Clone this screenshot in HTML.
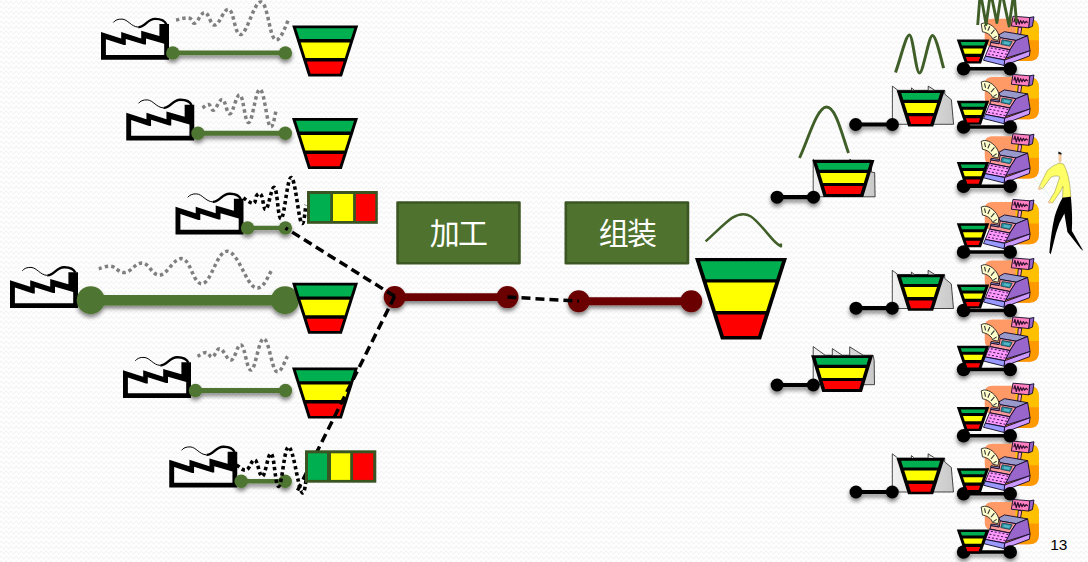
<!DOCTYPE html><html><head><meta charset="utf-8"><title>slide</title><style>html,body{margin:0;padding:0;background:#fff}svg{display:block}</style></head><body><svg width="1088" height="562" viewBox="0 0 1088 562"><defs><pattern id="zz" width="5" height="5" patternUnits="userSpaceOnUse"><path d="M-1.25 4.1L1.25 0.9L3.75 4.1L6.25 0.9" fill="none" stroke="#f4f4f4" stroke-width="1.1"/></pattern><filter id="sh" x="-20%" y="-50%" width="140%" height="250%"><feGaussianBlur in="SourceAlpha" stdDeviation="2"/><feOffset dx="0" dy="3.2"/><feComponentTransfer><feFuncA type="linear" slope="0.5"/></feComponentTransfer><feMerge><feMergeNode/><feMergeNode in="SourceGraphic"/></feMerge></filter><linearGradient id="gg" x1="0" y1="0" x2="1" y2="0"><stop offset="0" stop-color="#f2f2f2"/><stop offset="1" stop-color="#c9c9c9"/></linearGradient><g id="fac"><path fill-rule="evenodd" fill="#000" d="M0 0L0 -27.8L20.2 -21.3L20.2 -27.8L40.2 -21.3L40.2 -29L58.4 -23.7L58.4 -35.7L68 -35.7L68 0ZM4.9 -4.8L4.9 -20.4L22.9 -14.6L24.8 -14.6L24.8 -20.8L43 -15.1L45 -15.1L45 -21.3L63.2 -16L63.2 -4.8Z"/><path d="M12.3 -37.2C14 -39.5 17 -40.8 21 -40.6C27 -40.3 30 -33 37.3 -32.6" fill="none" stroke="#000" stroke-width="1"/><path d="M37.3 -32.6C44 -32.2 46 -40.6 54 -40.8C59.5 -40.9 63.5 -39.5 65.3 -35.5" fill="none" stroke="#000" stroke-width="2.4"/></g><g id="reg"><path d="M34.74 14.24 Q34.74 7.06 42.14 7.06 L79.73 7.06 Q88.84 7.06 88.84 17.08 L88.84 39.86 Q88.84 49.2 79.73 49.2 L54.67 49.2 L54.67 34.17 L39.29 34.17 Q34.74 34.17 34.74 27.33Z" fill="#FF9966"/><path d="M65.49 13.67 Q66.06 9.11 70.62 8.43 L79.73 7.97 Q88.84 7.52 88.84 17.08 L88.84 29.04 L65.49 29.04Z" fill="#FFC000"/><path d="M78.59 28.47 L88.84 28.47 L88.84 39.86 Q88.84 49.2 79.73 49.2 L54.67 49.2 L54.67 45.56Z" fill="#FF9900"/><path d="M31.21 12.07 L34.17 11.16 C39.64 11.16 46.47 15.95 48.86 23.69 L48.06 28.7 L42.6 27.45 C41.23 23.23 36.9 20.73 32.46 20.05Z" fill="#FFFFCC" stroke="#222" stroke-width="0.9" stroke-linejoin="round"/><path d="M34.51 13.44L35.54 17.77" stroke="#333" stroke-width="1.1"/><path d="M39.86 14.58L37.81 18.91" stroke="#333" stroke-width="1.1"/><path d="M44.42 18.22L41 22.1" stroke="#333" stroke-width="1.1"/><path d="M46.7 24.37L43.28 26.65" stroke="#333" stroke-width="1.1"/><path d="M68.34 15.26 L71.75 15.83 L70.62 22.78 L67.65 22.55Z" fill="#FF99CC" stroke="#100828" stroke-width="0.9" stroke-linejoin="round"/><path d="M79.73 5.81 L83.94 5.01 L82.46 14.58 L78.59 16.06Z" fill="#9966CC" stroke="#100828" stroke-width="0.9" stroke-linejoin="round"/><path d="M62.98 4.44 L79.73 5.81 L78.59 16.06 L61.39 14.24Z" fill="#FF80C0" stroke="#100828" stroke-width="0.9" stroke-linejoin="round"/><path d="M63.78 10.48 L64.92 6.83 L66.29 12.76 L67.88 7.52 L69.25 12.3 L70.62 8.66 L71.98 11.85 L73.35 9.11 L74.72 11.39 L76.08 9.57 L77.68 10.93" fill="none" stroke="#301030" stroke-width="1.2" stroke-linejoin="round"/><path d="M48.97 23.01 L54.44 19.93 L77.68 23.92 L66.29 28.7 L50.11 25.97Z" fill="#9999CC" stroke="#100828" stroke-width="0.9" stroke-linejoin="round"/><path d="M41 29.04 L49.77 30.3 L49.2 32.12 L40.55 30.75Z" fill="#9999CC" stroke="#100828" stroke-width="0.9" stroke-linejoin="round"/><path d="M50.11 25.97 L65.83 28.7 L60.02 37.93 L39.86 33.94 L41 30.75 L49.2 32.12Z" fill="#FF9999" stroke="#100828" stroke-width="0.9" stroke-linejoin="round"/><path d="M52.16 28.02 L62.19 29.84 L59.91 34.4 L50.8 32.57Z" fill="#2F8FA0" stroke="#104050" stroke-width="0.8" stroke-linejoin="round"/><path d="M54.21 29.84 L60.14 30.75 L59 33.03 L53.53 32.12Z" fill="#55B8C8"/><path d="M66.06 28.7 L77.68 23.92 L80.07 38.95 L55.58 46.47 L60.02 37.93Z" fill="#9966CC" stroke="#100828" stroke-width="0.9" stroke-linejoin="round"/><path d="M39.52 34.17 L60.02 38.15 L54.9 48.06 L35.31 44.42Z" fill="#FF99FF" stroke="#100828" stroke-width="0.9" stroke-linejoin="round"/><path d="M40.77 36.33L42.82 36.56" stroke="#401850" stroke-width="1.1"/><path d="M44.65 37.07L46.7 37.3" stroke="#401850" stroke-width="1.1"/><path d="M48.52 37.81L50.57 38.04" stroke="#401850" stroke-width="1.1"/><path d="M52.39 38.55L54.44 38.78" stroke="#401850" stroke-width="1.1"/><path d="M56.26 39.29L58.31 39.52" stroke="#401850" stroke-width="1.1"/><path d="M39.41 39.29L41.46 39.52" stroke="#401850" stroke-width="1.1"/><path d="M43.28 40.03L45.33 40.26" stroke="#401850" stroke-width="1.1"/><path d="M47.15 40.77L49.2 41" stroke="#401850" stroke-width="1.1"/><path d="M51.03 41.51L53.08 41.74" stroke="#401850" stroke-width="1.1"/><path d="M54.9 42.26L56.95 42.48" stroke="#401850" stroke-width="1.1"/><path d="M38.04 42.26L40.09 42.48" stroke="#401850" stroke-width="1.1"/><path d="M41.91 43L43.96 43.22" stroke="#401850" stroke-width="1.1"/><path d="M45.79 43.74L47.84 43.96" stroke="#401850" stroke-width="1.1"/><path d="M49.66 44.48L51.71 44.7" stroke="#401850" stroke-width="1.1"/><path d="M53.53 45.22L55.58 45.44" stroke="#401850" stroke-width="1.1"/><path d="M35.31 44.42 L54.67 48.29 L54.21 53.76 L33.49 48.52Z" fill="#9999FF" stroke="#100828" stroke-width="0.9" stroke-linejoin="round"/><path d="M54.67 48.29 L80.07 38.95 L79.38 44.19 L54.21 53.76Z" fill="#CC99FF" stroke="#100828" stroke-width="0.9" stroke-linejoin="round"/></g><g id="fun"><path d="M0 0 L66 0 L49.8 51 L16.2 51Z" fill="#000"/><path d="M3.96 2.7 L62.04 2.7 L58.58 13.6 L7.42 13.6Z" fill="#00B050"/><path d="M8.5 17 L57.5 17 L52.61 32.4 L13.39 32.4Z" fill="#FFFF00"/><path d="M14.54 36 L51.46 36 L47.56 48.3 L18.44 48.3Z" fill="#FF0000"/></g><g id="sfun"><path d="M0 0 L32.4 0 L24.2 24 L8.2 24Z" fill="#000"/><path d="M3.92 2.4 L28.48 2.4 L27.22 6.1 L5.18 6.1Z" fill="#00B050"/><path d="M6.17 9 L26.22 9 L24.45 14.2 L7.95 14.2Z" fill="#FFFF00"/><path d="M9.04 17.4 L23.35 17.4 L21.85 21.8 L10.55 21.8Z" fill="#FF0000"/></g><g id="per"><path d="M38.4 11.57L41.64 12.95L41.18 15.27L38.4 14.34Z" fill="#111"/><path d="M38.63 13.88L41.41 14.8L41.64 20.36L39.79 24.06L38.4 19.89Z" fill="#F2C9A0"/><path d="M38.86 23.13 L43.49 24.06 Q49.73 34.7 50.89 56.9 L42.56 58.06 L43.03 46.26 Q40.48 52.05 32.38 62.92 L28.68 61.99 L34.7 52.05 L39.79 37.01 Q37.01 34.7 31.23 37.01 L22.21 49.04 L18.97 47.19 L27.3 30.53 Q32.38 25.45 38.86 23.13Z" fill="#FFFF66" stroke="#8a8a30" stroke-width="0.5"/><circle cx="19.43" cy="48.58" r="1.6" fill="#F2C9A0"/><circle cx="29.61" cy="61.99" r="1.6" fill="#F2C9A0"/><path d="M42.56 57.83 L50.89 56.67 Q52.74 76.34 51.82 90.68 L63.38 111.03 L60.61 108.72 L47.42 92.07 Q45.34 79.81 44.41 73.56 Q38.4 83.28 36.09 92.99 L30.77 114.27 L29.38 112.42 Q31 92.53 34.7 76.34 Q38.17 65.23 42.56 57.83Z" fill="#000"/><path d="M13.88 38.17L30.07 56.67" stroke="#d8f0e0" stroke-width="0.8"/></g><g id="wfun"><path d="M0 0 L62 0 L50.85 36.8 L11.15 36.8Z" fill="#000"/><path d="M4.58 2.9 L57.42 2.9 L55.39 9.6 L6.61 9.6Z" fill="#00B050"/><path d="M7.58 12.8 L54.42 12.8 L51.39 22.8 L10.61 22.8Z" fill="#FFFF00"/><path d="M11.52 25.8 L50.48 25.8 L48.03 33.9 L13.97 33.9Z" fill="#FF0000"/></g><g id="nfun"><path d="M0 0 L48.2 0 L36.65 36.2 L11.55 36.2Z" fill="#000"/><path d="M4.59 2.8 L43.61 2.8 L41.5 9.4 L6.7 9.4Z" fill="#00B050"/><path d="M7.72 12.6 L40.48 12.6 L37.29 22.6 L10.91 22.6Z" fill="#FFFF00"/><path d="M11.96 25.9 L36.24 25.9 L33.75 33.7 L14.45 33.7Z" fill="#FF0000"/></g><g id="bfun"><path d="M0 0 L92 0 L66 81.5 L26 81.5Z" fill="#000"/><path d="M5.02 3.2 L86.98 3.2 L81.2 21.3 L10.8 21.3Z" fill="#00B050"/><path d="M11.85 24.6 L80.15 24.6 L71.09 53 L20.91 53Z" fill="#FFFF00"/><path d="M22.06 56.6 L69.94 56.6 L63.12 78 L28.88 78Z" fill="#FF0000"/></g><g id="wbld"><path d="M2.1 29.5L2.1 -8.6L14 0L21.2 0L21.2 -6.6L31.1 0L38.6 0L38.6 -8.4L52 0L62 0L63.1 5.2L63.4 29.5Z" fill="url(#gg)" stroke="#000" stroke-width="0.7" stroke-linejoin="miter"/></g><g id="nbld"><path d="M-4.2 34L-4.2 -4.2L1.3 0L14.9 0L14.9 -2.4L17.9 0L31.6 0L31.6 -4.2L38.3 0L48.2 0L48.2 3.9L54.8 9.4L57 34Z" fill="url(#gg)" stroke="#000" stroke-width="0.7"/></g><g id="abld"><path d="M0.8 36.7L0.8 -1L2 0L37.5 0L37.5 -1L39 0L59 0L59 12L62.3 12.5L62.7 36.7Z" fill="url(#gg)" stroke="#000" stroke-width="0.7"/></g></defs><rect width="1088" height="562" fill="#fff"/><rect width="1088" height="562" fill="url(#zz)"/>
<path d="M176 20C178.6 19.6 185.2 17.4 189 18C192.8 18.6 191.8 24.1 195 23C198.2 21.9 201 12.1 205 12.5C209 12.9 210.2 25.6 215 25C219.8 24.4 223.8 7.6 229 9.5C234.2 11.4 234.6 36 241 34.5C247.4 33 254.2 1 261 2C267.8 3 269.4 36.1 275 39.5C280.6 42.9 286.2 23.1 289 19" fill="none" stroke="#7f7f7f" stroke-width="3.5" stroke-dasharray="3.4 3"/>
<path d="M202.5 108C203.75 107.3 206.5 104.1 208.75 104.5C211 104.9 211 111 213.75 110C216.5 109 219.25 98.75 222.5 99.5C225.75 100.25 226.5 114.65 230 113.75C233.5 112.85 236.25 93.25 240 95C243.75 96.75 244.75 123.6 248.75 122.5C252.75 121.4 255.75 88.75 260 89.5C264.25 90.25 266.75 122.15 270 126.25C273.25 130.35 275 113.25 276.25 110" fill="none" stroke="#7f7f7f" stroke-width="3.5" stroke-dasharray="3.4 3"/>
<path d="M98.75 268.75C101.25 268.25 106 265.5 111.25 266.25C116.5 267 118.75 273.15 125 272.5C131.25 271.85 135.5 262.5 142.5 263C149.5 263.5 152 275.85 160 275C168 274.15 174 257 182.5 258.75C191 260.5 193.5 285.25 202.5 283.75C211.5 282.25 217 250.5 227.5 251.25C238 252 246.1 283.75 255 287.5C263.9 291.25 268.6 273.5 272 270" fill="none" stroke="#7f7f7f" stroke-width="3.5" stroke-dasharray="3.4 3"/>
<path d="M197.5 356.25C199.25 355.5 203.25 352.35 206.25 352.5C209.25 352.65 209.75 357.75 212.5 357C215.25 356.25 216.25 348.15 220 348.75C223.75 349.35 227 360.75 231.25 360C235.5 359.25 237.25 343 241.25 345C245.25 347 246.75 371.25 251.25 370C255.75 368.75 258.75 338.5 263.75 338.75C268.75 339 271.5 367.75 276.25 371.25C281 374.75 285.25 359.25 287.5 356.25" fill="none" stroke="#7f7f7f" stroke-width="3.5" stroke-dasharray="3.4 3"/>
<use href="#fac" x="101" y="59.7"/>
<use href="#fac" x="126.25" y="140.5"/>
<use href="#fac" x="175.5" y="234.5"/>
<use href="#fac" x="10" y="308"/>
<use href="#fac" x="123" y="398"/>
<use href="#fac" x="169.25" y="487.5"/>
<g filter="url(#sh)"><path d="M172.8 52.9L285.4 52.9" stroke="#507530" stroke-width="4.9"/><circle cx="172.8" cy="52.9" r="6.7" fill="#507530"/><circle cx="285.4" cy="52.9" r="6.7" fill="#507530"/></g>
<g filter="url(#sh)"><path d="M198 133.2L285.3 133.2" stroke="#507530" stroke-width="4.9"/><circle cx="198" cy="133.2" r="6.7" fill="#507530"/><circle cx="285.3" cy="133.2" r="6.7" fill="#507530"/></g>
<g filter="url(#sh)"><path d="M247.6 227.9L285.4 227.9" stroke="#507530" stroke-width="4.3"/><circle cx="247.6" cy="227.9" r="6.7" fill="#507530"/><circle cx="285.4" cy="227.9" r="6.7" fill="#507530"/></g>
<g filter="url(#sh)"><path d="M90.75 300.2L285 300.2" stroke="#507530" stroke-width="10.6"/><circle cx="90.75" cy="300.2" r="14" fill="#507530"/><circle cx="285" cy="300.2" r="14" fill="#507530"/></g>
<g filter="url(#sh)"><path d="M195.5 390.5L285.5 390.5" stroke="#507530" stroke-width="4.9"/><circle cx="195.5" cy="390.5" r="6.7" fill="#507530"/><circle cx="285.5" cy="390.5" r="6.7" fill="#507530"/></g>
<g filter="url(#sh)"><path d="M241.25 481.25L285.2 481.25" stroke="#507530" stroke-width="4.3"/><circle cx="241.25" cy="481.25" r="6.7" fill="#507530"/><circle cx="285.2" cy="481.25" r="6.7" fill="#507530"/></g>
<path d="M243.4 198C245.42 199.08 250.84 203.92 253.5 203.4C256.16 202.88 255.12 197 256.7 195.4C258.28 193.8 259.54 192.6 261.4 195.4C263.26 198.2 263.38 210.98 266 209.4C268.62 207.82 271.45 185.63 274.5 187.5C277.55 189.37 277.9 220.75 281.25 218.75C284.6 216.75 287.25 176.75 291.25 177.5C295.25 178.25 298.3 217 301.25 222.5C304.2 228 305.05 208.5 306 205" fill="none" stroke="#000" stroke-width="3.6" stroke-dasharray="3.4 2.9"/>
<path d="M236.75 465C238.65 466 242.6 471 246.25 470C249.9 469 251.75 458.75 255 460C258.25 461.25 259.25 477.5 262.5 476.25C265.75 475 268 451.75 271.25 453.75C274.5 455.75 275.25 487.6 278.75 486.25C282.25 484.9 284.25 446 288.75 447C293.25 448 297.75 484.65 301.25 491.25C304.75 497.85 305.25 482.25 306.25 480" fill="none" stroke="#000" stroke-width="3.6" stroke-dasharray="3.4 2.9"/>
<use href="#fun" x="292.2" y="25.5"/>
<use href="#fun" x="292" y="118"/>
<use href="#fun" x="292.05" y="282.8"/>
<use href="#fun" x="292" y="367.6"/>
<g filter="url(#sh)"><path d="M394.7 297.1L507.5 297.1" stroke="#6B0000" stroke-width="7.8"/><circle cx="394.7" cy="297.1" r="11" fill="#6B0000"/><circle cx="507.5" cy="297.1" r="11" fill="#6B0000"/></g>
<g filter="url(#sh)"><path d="M578.75 301.25L691.25 301.25" stroke="#6B0000" stroke-width="7.8"/><circle cx="578.75" cy="301.25" r="11" fill="#6B0000"/><circle cx="691.25" cy="301.25" r="11" fill="#6B0000"/></g>
<path d="M394.7 296.3L285.4 227.9" stroke="#000" stroke-width="3.5" stroke-dasharray="9 5" fill="none"/>
<path d="M394.7 296.3L297.6 490.5" stroke="#000" stroke-width="3.5" stroke-dasharray="9 5" fill="none"/>
<path d="M507.5 297L578.8 301.2" stroke="#000" stroke-width="3.5" stroke-dasharray="9 5" fill="none"/>
<rect x="307" y="191" width="70.8" height="32.8" fill="#3A5422"/><rect x="310" y="194" width="20.2" height="27" fill="#00B050"/><rect x="333" y="194" width="20.1" height="27" fill="#FFFF00"/><rect x="355.9" y="194" width="19.4" height="27" fill="#FF0000"/>
<rect x="305" y="450.3" width="71.3" height="32.4" fill="#3A5422"/><rect x="308" y="453.3" width="19" height="26.6" fill="#00B050"/><rect x="331" y="453.3" width="19.2" height="26.6" fill="#FFFF00"/><rect x="353.1" y="453.3" width="20.1" height="26.6" fill="#FF0000"/>
<rect x="397.55" y="202.55" width="121.9" height="60.65" fill="#4F722E" stroke="#3B5622" stroke-width="2.6" stroke-linejoin="round"/><text x="429.7 457.9" y="243.6" font-family="'Liberation Sans', 'Noto Sans CJK SC', sans-serif" font-size="30" fill="#fff">加工</text>
<rect x="565.8" y="202.55" width="122.15" height="60.65" fill="#4F722E" stroke="#3B5622" stroke-width="2.6" stroke-linejoin="round"/><text x="598.7 626.9" y="244.1" font-family="'Liberation Sans', 'Noto Sans CJK SC', sans-serif" font-size="30" fill="#fff">组装</text>
<use href="#bfun" x="695" y="258"/>
<path d="M705.6 241.4C716 232 727 220.8 732.5 217.6C738 214.4 745 213 750.5 216.3C758.5 221.2 770 237.5 776 242.8C778 244.6 780 246 780.9 246.3L780.9 243.6" fill="none" stroke="#405E28" stroke-linejoin="round" stroke-width="2.5"/>
<use href="#abld" x="812.4" y="160.1"/><g filter="url(#sh)"><path d="M777.1 197.2L813.5 197.2" stroke="#000" stroke-width="4.2"/><circle cx="777.1" cy="197.2" r="6.5" fill="#000"/><circle cx="813.5" cy="197.2" r="6.5" fill="#000"/></g><use href="#wfun" x="812.4" y="160.1"/>
<use href="#wbld" x="811.1" y="355.2"/><g filter="url(#sh)"><path d="M777.1 385L813.3 385" stroke="#000" stroke-width="4.2"/><circle cx="777.1" cy="385" r="6.5" fill="#000"/><circle cx="813.3" cy="385" r="6.5" fill="#000"/></g><use href="#wfun" x="811.1" y="355.2"/>
<use href="#nbld" x="896.6" y="90.3"/><g filter="url(#sh)"><path d="M855.7 124.5L892.4 124.5" stroke="#000" stroke-width="4.2"/><circle cx="855.7" cy="124.5" r="6.5" fill="#000"/><circle cx="892.4" cy="124.5" r="6.5" fill="#000"/></g><use href="#nfun" x="896.6" y="90.3"/>
<use href="#nbld" x="896.5" y="274.5"/><g filter="url(#sh)"><path d="M856 308.2L892.25 308.2" stroke="#000" stroke-width="4.2"/><circle cx="856" cy="308.2" r="6.5" fill="#000"/><circle cx="892.25" cy="308.2" r="6.5" fill="#000"/></g><use href="#nfun" x="896.5" y="274.5"/>
<use href="#nbld" x="896.5" y="458"/><g filter="url(#sh)"><path d="M856 492L892.25 492" stroke="#000" stroke-width="4.2"/><circle cx="856" cy="492" r="6.5" fill="#000"/><circle cx="892.25" cy="492" r="6.5" fill="#000"/></g><use href="#nfun" x="896.5" y="458"/>
<path d="M799.5 158C808 140 817 107 826.5 107C836 107 842 135 848.5 153" fill="none" stroke="#405E28" stroke-width="2.9"/>
<path d="M895.5 72.4C900.5 59 905.8 35 909.4 35C913 35 915.8 72.9 919.5 72.9C923.2 72.9 928.8 35.5 932.4 35.5C936 35.5 940.5 57 943.6 68.1" fill="none" stroke="#405E28" stroke-width="3"/>
<use href="#reg" x="950" y="11.75"/>
<g filter="url(#sh)"><path d="M963.6 68.75L1010.2 68.75" stroke="#000" stroke-width="3.6"/><circle cx="963.6" cy="68.75" r="6.8" fill="#000"/><circle cx="1010.2" cy="68.75" r="6.8" fill="#000"/></g>
<use href="#sfun" x="956.8" y="39.5"/>
<use href="#reg" x="950" y="70"/>
<g filter="url(#sh)"><path d="M963.6 127L1010.2 127" stroke="#000" stroke-width="3.6"/><circle cx="963.6" cy="127" r="6.8" fill="#000"/><circle cx="1010.2" cy="127" r="6.8" fill="#000"/></g>
<use href="#sfun" x="956.8" y="100.75"/>
<use href="#reg" x="950" y="129.25"/>
<g filter="url(#sh)"><path d="M963.6 186.25L1010.2 186.25" stroke="#000" stroke-width="3.6"/><circle cx="963.6" cy="186.25" r="6.8" fill="#000"/><circle cx="1010.2" cy="186.25" r="6.8" fill="#000"/></g>
<use href="#sfun" x="956.8" y="162"/>
<use href="#reg" x="950" y="195"/>
<g filter="url(#sh)"><path d="M963.6 252L1010.2 252" stroke="#000" stroke-width="3.6"/><circle cx="963.6" cy="252" r="6.8" fill="#000"/><circle cx="1010.2" cy="252" r="6.8" fill="#000"/></g>
<use href="#sfun" x="956.8" y="223.25"/>
<use href="#reg" x="950" y="253.5"/>
<g filter="url(#sh)"><path d="M963.6 310.5L1010.2 310.5" stroke="#000" stroke-width="3.6"/><circle cx="963.6" cy="310.5" r="6.8" fill="#000"/><circle cx="1010.2" cy="310.5" r="6.8" fill="#000"/></g>
<use href="#sfun" x="956.8" y="284.5"/>
<use href="#reg" x="950" y="312.5"/>
<g filter="url(#sh)"><path d="M963.6 369.5L1010.2 369.5" stroke="#000" stroke-width="3.6"/><circle cx="963.6" cy="369.5" r="6.8" fill="#000"/><circle cx="1010.2" cy="369.5" r="6.8" fill="#000"/></g>
<use href="#sfun" x="956.8" y="345.75"/>
<use href="#reg" x="950" y="378.75"/>
<g filter="url(#sh)"><path d="M963.6 435.75L1010.2 435.75" stroke="#000" stroke-width="3.6"/><circle cx="963.6" cy="435.75" r="6.8" fill="#000"/><circle cx="1010.2" cy="435.75" r="6.8" fill="#000"/></g>
<use href="#sfun" x="956.8" y="407"/>
<use href="#reg" x="950" y="436.75"/>
<g filter="url(#sh)"><path d="M963.6 493.75L1010.2 493.75" stroke="#000" stroke-width="3.6"/><circle cx="963.6" cy="493.75" r="6.8" fill="#000"/><circle cx="1010.2" cy="493.75" r="6.8" fill="#000"/></g>
<use href="#sfun" x="956.8" y="468.25"/>
<use href="#reg" x="950" y="495"/>
<g filter="url(#sh)"><path d="M963.6 552L1010.2 552" stroke="#000" stroke-width="3.6"/><circle cx="963.6" cy="552" r="6.8" fill="#000"/><circle cx="1010.2" cy="552" r="6.8" fill="#000"/></g>
<use href="#sfun" x="956.8" y="529.5"/>
<path d="M977.7 25L980.3 -8L986.1 24.6L990.6 -8L996.9 22.6L1001.6 -9L1009.1 26L1013.9 -8L1016.5 22.3" fill="none" stroke="#405E28" stroke-width="2.9" stroke-linejoin="round"/>
<use href="#per" x="1020" y="140"/>
<text x="1050.3" y="550" font-family="Liberation Sans, sans-serif" font-size="15.4" fill="#000">13</text></svg></body></html>
